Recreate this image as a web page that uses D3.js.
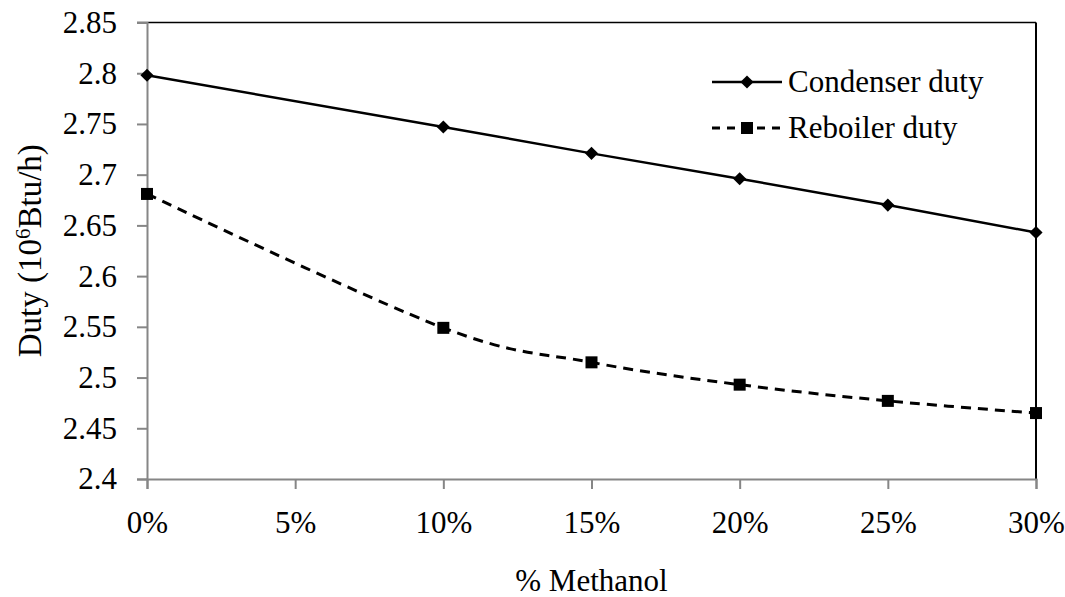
<!DOCTYPE html>
<html>
<head>
<meta http-equiv="Content-type" content="text/html; charset=utf-8">
<title>Duty vs Methanol</title>
<script src="https://d3js.org/d3.v7.min.js"></script>
</head>
<body style="margin:0; background:#fff">
<svg id="chart" width="1065" height="597"></svg>
<script>
// data
var methanol = [0, 10, 15, 20, 25, 30];           // % methanol
var condenserDuty = [2.798, 2.747, 2.721, 2.696, 2.670, 2.643];
var reboilerDuty = [2.681, 2.549, 2.515, 2.493, 2.477, 2.465];
var xTicks = [0, 5, 10, 15, 20, 25, 30];
var yTicks = [2.4, 2.45, 2.5, 2.55, 2.6, 2.65, 2.7, 2.75, 2.8, 2.85];
var seriesNames = ["Condenser duty", "Reboiler duty"];

// plot box (note: "top" is taken by window.top)
var pLeft = 147, pRight = 1036, pTop = 22.5, pBottom = 479;
var axisGrey = "#868686";
var fs = 31;
var font = "Liberation Serif";

var svg = d3.select("#chart").attr("font-family", font);

var x = d3.scaleLinear().domain([0, 30]).range([pLeft, pRight]);
var y = d3.scaleLinear().domain([2.4, 2.85]).range([pBottom, pTop]);

// plot border (top and right are black)
svg.append("line").attr("x1", pLeft - 10).attr("x2", pRight).attr("y1", y(2.85)).attr("y2", y(2.85))
  .attr("stroke", "#000").attr("stroke-width", 1.5);
svg.append("line").attr("x1", pRight).attr("x2", pRight).attr("y1", pTop).attr("y2", pBottom)
  .attr("stroke", "#000").attr("stroke-width", 2);

// y axis
var yAxis = svg.append("g").attr("transform", "translate(" + pLeft + ",0)")
  .call(d3.axisLeft(y).tickValues(yTicks).tickSize(10).tickPadding(20)
    .tickFormat(function (d) { return String(+d.toFixed(2)); }));
yAxis.attr("font-family", font);
yAxis.select(".domain").attr("stroke", axisGrey).attr("stroke-width", 2);
yAxis.selectAll(".tick line").attr("stroke", axisGrey).attr("stroke-width", 2);
yAxis.selectAll(".tick text").attr("font-size", fs).attr("font-family", font).attr("fill", "#000");

// x axis
var xAxis = svg.append("g").attr("transform", "translate(0," + pBottom + ")")
  .call(d3.axisBottom(x).tickValues(xTicks).tickSize(10).tickPadding(22)
    .tickFormat(function (d) { return d + "%"; }));
xAxis.attr("font-family", font);
xAxis.select(".domain").attr("stroke", axisGrey).attr("stroke-width", 2);
xAxis.selectAll(".tick line").attr("stroke", axisGrey).attr("stroke-width", 2);
xAxis.selectAll(".tick text").attr("font-size", fs).attr("font-family", font).attr("fill", "#000");

// axis titles
svg.append("text").attr("x", (pLeft + pRight) / 2).attr("y", 591)
  .attr("text-anchor", "middle").attr("font-family", font).attr("font-size", fs).text("% Methanol");

var yt = svg.append("text").attr("transform", "translate(41," + ((pTop + pBottom) / 2) + ") rotate(-90)")
  .attr("text-anchor", "middle").attr("font-family", font).attr("font-size", 33);
yt.append("tspan").text("Duty (10");
yt.append("tspan").attr("font-size", 21).attr("dy", -11).text("6");
yt.append("tspan").attr("dy", 11).text("Btu/h)");

// lines
var condData = methanol.map(function (m, i) { return [m, condenserDuty[i]]; });
var rebData = methanol.map(function (m, i) { return [m, reboilerDuty[i]]; });

var line = d3.line().x(function (d) { return x(d[0]); }).y(function (d) { return y(d[1]); });
var smooth = d3.line().curve(d3.curveCatmullRom.alpha(0))
  .x(function (d) { return x(d[0]); }).y(function (d) { return y(d[1]); });

svg.append("path").attr("d", line(condData)).attr("fill", "none")
  .attr("stroke", "#000").attr("stroke-width", 2.5);
svg.append("path").attr("d", smooth(rebData)).attr("fill", "none")
  .attr("stroke", "#000").attr("stroke-width", 3).attr("stroke-dasharray", "10,7");

var diamond = d3.symbol().type(d3.symbolDiamond2).size(110);
svg.selectAll(".cond").data(condData).enter().append("path")
  .attr("class", "cond").attr("d", diamond)
  .attr("transform", function (d) { return "translate(" + x(d[0]) + "," + y(d[1]) + ")"; })
  .attr("fill", "#000");

svg.selectAll(".reb").data(rebData).enter().append("rect")
  .attr("class", "reb")
  .attr("x", function (d) { return x(d[0]) - 6; })
  .attr("y", function (d) { return y(d[1]) - 6; })
  .attr("width", 12).attr("height", 12).attr("fill", "#000");

// legend
var lg = svg.append("g");
lg.append("line").attr("x1", 712).attr("x2", 782).attr("y1", 82).attr("y2", 82)
  .attr("stroke", "#000").attr("stroke-width", 2.5);
lg.append("path").attr("d", diamond).attr("transform", "translate(747,82)").attr("fill", "#000");
lg.append("text").attr("x", 788).attr("y", 92).attr("font-family", font).attr("font-size", fs).text(seriesNames[0]);

lg.append("line").attr("x1", 712).attr("x2", 782).attr("y1", 128).attr("y2", 128)
  .attr("stroke", "#000").attr("stroke-width", 3).attr("stroke-dasharray", "8,7");
lg.append("rect").attr("x", 741).attr("y", 122).attr("width", 12).attr("height", 12).attr("fill", "#000");
lg.append("text").attr("x", 788).attr("y", 138).attr("font-family", font).attr("font-size", fs).text(seriesNames[1]);
</script>
</body>
</html>
